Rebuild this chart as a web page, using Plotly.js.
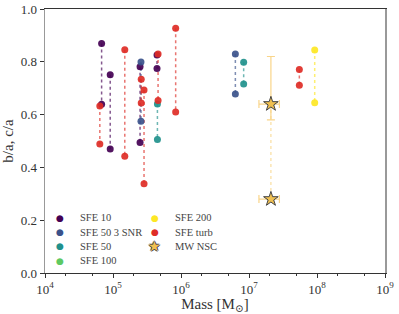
<!DOCTYPE html>
<html><head><meta charset="utf-8">
<script src="https://cdn.plot.ly/plotly-3.0.1.min.js"></script>
<style>html,body{margin:0;padding:0;background:#fff}#plot{width:399px;height:314px}</style>
</head><body><div id="plot"></div>
<script>
// Series: mass [Msun], b/a, c/a
const names = ["SFE 10", "SFE 50 3 SNR", "SFE 50", "SFE 100", "SFE 200", "SFE turb"];
const colors = ["#440154", "#3b528b", "#21918c", "#5ec962", "#fde725", "#de2d26"];
const sfe10_mass = [6.8e4, 9.1e4, 2.5e5, 4.44e5];
const sfe10_ba   = [0.869, 0.751, 0.781, 0.826];
const sfe10_ca   = [0.639, 0.470, 0.494, 0.775];
const sfe50snr_mass = [2.58e5, 6.3e6];
const sfe50snr_ba   = [0.799, 0.830];
const sfe50snr_ca   = [0.575, 0.678];
const sfe50_mass = [4.5e5, 8.35e6];
const sfe50_ba   = [0.640, 0.798];
const sfe50_ca   = [0.506, 0.716];
const sfe100_mass = [];
const sfe100_ba   = [];
const sfe100_ca   = [];
const sfe200_mass = [9.25e7];
const sfe200_ba   = [0.845];
const sfe200_ca   = [0.645];
const turb_mass = [6.4e4, 1.49e5, 2.6e5, 2.86e5, 4.6e5, 8.35e5, 5.5e7];
const turb_ba   = [0.633, 0.846, 0.734, 0.693, 0.830, 0.927, 0.771];
const turb_ca   = [0.489, 0.442, 0.644, 0.338, 0.653, 0.610, 0.711];
// MW nuclear star cluster
const mw_mass = 2.1e7, mw_mass_err = 0.7e7;
const mw_ba = 0.64, mw_ba_err_plus = 0.18, mw_ba_err_minus = 0.06;
const mw_ca = 0.28;
const xTickVals = [1e4, 1e5, 1e6, 1e7, 1e8, 1e9];
const xTickText = ["10<sup>4</sup>", "10<sup>5</sup>", "10<sup>6</sup>", "10<sup>7</sup>", "10<sup>8</sup>", "10<sup>9</sup>"];
const yTickVals = [0, 0.2, 0.4, 0.6, 0.8, 1.0];

const series = [
  [sfe10_mass, sfe10_ba, sfe10_ca],
  [sfe50snr_mass, sfe50snr_ba, sfe50snr_ca],
  [sfe50_mass, sfe50_ba, sfe50_ca],
  [sfe100_mass, sfe100_ba, sfe100_ca],
  [sfe200_mass, sfe200_ba, sfe200_ca],
  [turb_mass, turb_ba, turb_ca]
];

const traces = [];
series.forEach((s, i) => {
  const [m, ba, ca] = s;
  const lx = [], ly = [];
  m.forEach((v, j) => { lx.push(v, v, null); ly.push(ba[j], ca[j], null); });
  traces.push({x: lx, y: ly, mode: 'lines', type: 'scatter', showlegend: false, hoverinfo: 'skip',
    line: {color: colors[i], width: 1.5, dash: 'dot'}, opacity: 0.65});
});
series.forEach((s, i) => {
  const [m, ba, ca] = s;
  traces.push({x: m.concat(m), y: ba.concat(ca), mode: 'markers', type: 'scatter', showlegend: false,
    marker: {color: colors[i], size: 7, opacity: 0.92, line: {width: 0}}});
});
// MW NSC
traces.push({x: [mw_mass, mw_mass], y: [mw_ba, mw_ca], mode: 'lines', type: 'scatter', showlegend: false,
  line: {color: '#f7c860', width: 1.2, dash: 'dot'}, opacity: 0.6});
traces.push({x: [mw_mass], y: [mw_ba], mode: 'markers', type: 'scatter', showlegend: false,
  error_y: {type: 'data', array: [mw_ba_err_plus], arrayminus: [mw_ba_err_minus], symmetric: false, color: '#f9d58a', thickness: 1.2, width: 4},
  error_x: {type: 'data', array: [mw_mass_err], color: '#f9d58a', thickness: 1.2, width: 4},
  marker: {symbol: 'star', size: 11, color: '#f0c050', line: {color: '#444', width: 1}}});
traces.push({x: [mw_mass], y: [mw_ca], mode: 'markers', type: 'scatter', showlegend: false,
  error_x: {type: 'data', array: [mw_mass_err], color: '#f9d58a', thickness: 1.2, width: 4},
  marker: {symbol: 'star', size: 11, color: '#f0c050', line: {color: '#444', width: 1}}});

// legend via annotations
const legNames = names.concat(["MW NSC"]);
const legColors = colors.concat(["#f0c050"]);
const colX = [0.044, 0.323];
const rowY = [0.2095, 0.155, 0.1015, 0.0466];
const annotations = [];
legNames.forEach((n, k) => {
  const col = k < 4 ? 0 : 1, row = k < 4 ? k : k - 4;
  const isStar = n === "MW NSC";
  if (isStar) {
    annotations.push({xref: 'paper', yref: 'paper', x: colX[col], y: rowY[row], xanchor: 'center', yanchor: 'middle',
      text: '★', showarrow: false, font: {color: legColors[k], size: 14, family: 'DejaVu Sans',
      shadow: '-1px 0 #444, 1px 0 #444, 0 -1px #444, 0 1px #444'}});
  } else {
    annotations.push({xref: 'paper', yref: 'paper', x: colX[col], y: rowY[row], xanchor: 'center', yanchor: 'middle',
      text: '●', showarrow: false, font: {color: legColors[k], size: 9, family: 'DejaVu Sans'}});
  }
  annotations.push({xref: 'paper', yref: 'paper', x: colX[col] + 0.053, y: rowY[row], xanchor: 'left', yanchor: 'middle',
    text: n, showarrow: false, font: {color: '#444', size: 10.5, family: 'Liberation Serif, serif'}});
});

const layout = {
  width: 399, height: 314,
  margin: {l: 45, r: 14, t: 9, b: 41},
  paper_bgcolor: '#fff', plot_bgcolor: '#fff',
  showlegend: false,
  font: {family: 'Liberation Serif, DejaVu Serif, serif', color: '#333', size: 13},
  xaxis: {type: 'log', range: [4, 9], tickvals: xTickVals, ticktext: xTickText, ticks: 'outside', ticklen: 4,
    tickcolor: '#333', showgrid: false, zeroline: false, showline: true, linecolor: '#333', linewidth: 1.2, mirror: true,
    minor: {ticks: 'outside', ticklen: 2, tickcolor: '#333', showgrid: false},
    tickfont: {size: 13}, title: {text: 'Mass [M<sub>⊙</sub>]', font: {size: 15}, standoff: 4}},
  yaxis: {range: [0, 1.0], tickvals: yTickVals, ticktext: ["0.0", "0.2", "0.4", "0.6", "0.8", "1.0"],
    ticks: 'outside', ticklen: 4, tickcolor: '#333', showgrid: false, zeroline: false, showline: true,
    linecolor: '#999', linewidth: 1.5, mirror: true, tickfont: {size: 13},
    title: {text: 'b/a, c/a', font: {size: 15}, standoff: 6}},
  annotations: annotations
};
Plotly.newPlot('plot', traces, layout, {displayModeBar: false, staticPlot: true});
</script></body></html>
